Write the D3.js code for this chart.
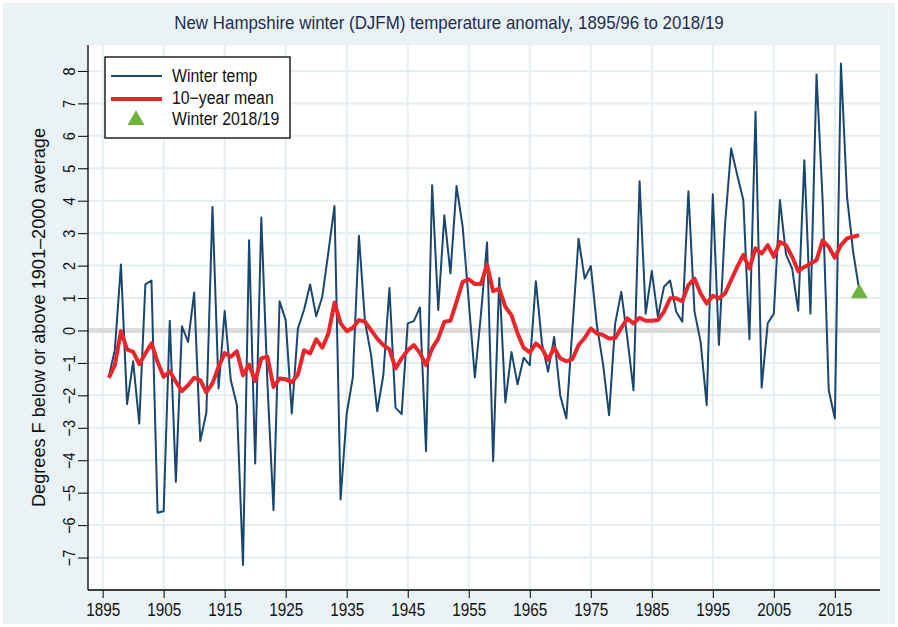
<!DOCTYPE html>
<html>
<head>
<meta charset="utf-8">
<script src="https://cdn.jsdelivr.net/npm/d3@7"></script>
<style>
  body { margin: 0; background: #fff; }
  text { font-family: 'Liberation Sans Narrow', 'Arial Narrow', 'Liberation Sans', sans-serif; }
</style>
</head>
<body>
<svg id="chart" width="898" height="627"></svg>
<script>
// winter seasons, labelled by the year the winter ends (1895/96 -> 1896)
var years = d3.range(1896, 2020);

var winter_temp = [
  -1.43, -0.60,  2.03, -2.27, -0.95, -2.87,  1.42,  1.54, -5.62, -5.57,
   0.30, -4.66,  0.13, -0.35,  1.17, -3.41, -2.53,  3.81, -1.79,  0.60,
  -1.53, -2.30, -7.23,  2.78, -4.10,  3.48, -1.60, -5.54,  0.90,  0.32,
  -2.56,  0.06,  0.63,  1.42,  0.44,  1.04,  2.42,  3.84, -5.21, -2.56,
  -1.45,  2.92,  0.27, -0.76, -2.49, -1.38,  1.31, -2.38, -2.58,  0.22,
   0.29,  0.71, -3.72,  4.48,  0.63,  3.55,  1.76,  4.45,  3.20,  0.90,
  -1.45,  0.50,  2.71, -4.03,  1.62, -2.22, -0.66, -1.66, -0.84, -1.07,
   1.52, -0.40, -1.27, -0.20, -2.01, -2.71,  0.10,  2.83,  1.60,  1.99,
   0.16, -1.02, -2.61,  0.22,  1.19, -0.25, -1.84,  4.60,  0.52,  1.83,
   0.42,  1.35,  1.54,  0.58,  0.27,  4.29,  0.58, -0.35, -2.30,  4.20,
  -0.45,  3.25,  5.61,  4.79,  4.02, -0.27,  6.74, -1.76,  0.22,  0.52,
   4.02,  2.34,  1.91,  0.61,  5.25,  0.52,  7.89,  4.00, -1.84, -2.71,
   8.23,  4.12,  2.42,  1.24
];

var mean_10yr = [
  -1.46, -1.07, -0.02, -0.58, -0.66, -1.04, -0.71, -0.40, -0.97, -1.43,
  -1.26, -1.58, -1.87, -1.69, -1.46, -1.53, -1.91, -1.63, -1.12, -0.70,
  -0.81, -0.64, -1.38, -1.05, -1.56, -0.86, -0.81, -1.74, -1.48, -1.50,
  -1.60, -1.36, -0.61, -0.71, -0.27, -0.53, -0.09,  0.86,  0.22, -0.02,
   0.08,  0.32,  0.27,  0.01, -0.25, -0.45, -0.58, -1.17, -0.86, -0.61,
  -0.45, -0.69, -1.07, -0.55, -0.25,  0.27,  0.30,  0.88,  1.50,  1.58,
   1.43,  1.43,  2.02,  1.21,  1.29,  0.73,  0.47, -0.09, -0.53, -0.68,
  -0.40, -0.55, -0.91, -0.53, -0.86, -0.95, -0.88, -0.45, -0.23,  0.06,
  -0.09, -0.14, -0.25, -0.23,  0.08,  0.37,  0.22,  0.39,  0.30,  0.30,
   0.32,  0.58,  0.99,  0.99,  0.90,  1.40,  1.60,  1.14,  0.83,  1.07,
   0.99,  1.14,  1.55,  1.96,  2.33,  1.91,  2.53,  2.37,  2.63,  2.27,
   2.73,  2.63,  2.27,  1.83,  1.96,  2.06,  2.17,  2.78,  2.58,  2.24,
   2.63,  2.84,  2.89,  2.94
];

var last_year  = 2019;
var last_value = 1.24;

var x_ticks = [1895, 1905, 1915, 1925, 1935, 1945, 1955, 1965, 1975, 1985, 1995, 2005, 2015];
var y_ticks = [-7, -6, -5, -4, -3, -2, -1, 0, 1, 2, 3, 4, 5, 6, 7, 8];

var title_text  = 'New Hampshire winter (DJFM) temperature anomaly, 1895/96 to 2018/19';
var y_title     = 'Degrees F below or above 1901\u20132000 average';
var legend_text = ['Winter temp', '10\u2212year mean', 'Winter 2018/19'];

var col_blue  = '#1a476f';
var col_red   = '#e8262b';
var col_green = '#6cb33f';
var col_grid  = '#e4eef3';

var svg = d3.select('#chart');

var plot_left = 88, plot_right = 880, plot_top = 45, plot_bottom = 590;

var x = d3.scaleLinear().domain([1892.6, 2022.4]).range([plot_left, plot_right]);
var y = d3.scaleLinear().domain([-8, 8.8]).range([plot_bottom, plot_top]);

// no narrow font installed, so squeeze the text to look like Helvetica Narrow
function condense(sel, k) {
  sel.each(function() {
    var w = this.getComputedTextLength();
    d3.select(this).attr('textLength', w * k).attr('lengthAdjust', 'spacingAndGlyphs');
  });
}

// outer panel
svg.append('rect')
  .attr('x', 3).attr('y', 3).attr('width', 892).attr('height', 621)
  .attr('fill', '#e9f2f5');

svg.append('rect')
  .attr('x', plot_left).attr('y', plot_top)
  .attr('width', plot_right - plot_left).attr('height', plot_bottom - plot_top)
  .attr('fill', '#ffffff');

// grid
svg.append('g').selectAll('line').data(x_ticks).enter().append('line')
  .attr('x1', function(d) { return x(d); })
  .attr('x2', function(d) { return x(d); })
  .attr('y1', plot_top).attr('y2', plot_bottom)
  .attr('stroke', col_grid).attr('stroke-width', 2);

svg.append('g').selectAll('line').data(y_ticks).enter().append('line')
  .attr('x1', plot_left).attr('x2', plot_right)
  .attr('y1', function(d) { return y(d); })
  .attr('y2', function(d) { return y(d); })
  .attr('stroke', function(d) { return d === 0 ? '#dcdcdc' : col_grid; })
  .attr('stroke-width', function(d) { return d === 0 ? 5 : 2; });

// axes
var xAxis = d3.axisBottom(x).tickValues(x_ticks).tickSize(8).tickPadding(5).tickFormat(d3.format('d'));
var gx = svg.append('g').attr('transform', 'translate(0,' + plot_bottom + ')').call(xAxis);
gx.select('.domain').attr('d', 'M' + plot_left + ',0H' + plot_right).attr('stroke', '#000').attr('stroke-width', 1.3);
gx.selectAll('.tick line').attr('stroke', '#000').attr('stroke-width', 1);
gx.selectAll('.tick text')
  .style('font-size', '18px')
  .attr('fill', '#111')
  .call(condense, 0.85);

var yAxis = d3.axisLeft(y).tickValues(y_ticks).tickSize(10)
  .tickFormat(function(d) { return d < 0 ? '\u2212' + Math.abs(d) : d; });
var gy = svg.append('g').attr('transform', 'translate(' + plot_left + ',0)').call(yAxis);
gy.select('.domain').attr('d', 'M0,' + plot_top + 'V' + plot_bottom).attr('stroke', '#000').attr('stroke-width', 1.3);
gy.selectAll('.tick line').attr('stroke', '#000').attr('stroke-width', 1);
gy.selectAll('.tick text')
  .attr('x', null).attr('dy', null)
  .attr('text-anchor', 'middle')
  .attr('transform', 'translate(-19,0) rotate(-90)')
  .attr('dy', '0.35em')
  .style('font-size', '17px')
  .attr('fill', '#111')
  .call(condense, 0.85);

// series
var pts = years.map(function(yr, i) { return {year: yr, temp: winter_temp[i], mean: mean_10yr[i]}; });

svg.append('path')
  .datum(pts)
  .attr('fill', 'none')
  .attr('stroke', col_blue)
  .attr('stroke-width', 2)
  .attr('stroke-linejoin', 'round')
  .attr('d', d3.line().x(function(d) { return x(d.year); }).y(function(d) { return y(d.temp); }));

svg.append('path')
  .datum(pts)
  .attr('fill', 'none')
  .attr('stroke', col_red)
  .attr('stroke-width', 4)
  .attr('stroke-linejoin', 'round')
  .attr('d', d3.line().x(function(d) { return x(d.year); }).y(function(d) { return y(d.mean); }));

var tri = d3.symbol().type(d3.symbolTriangle).size(125);
svg.append('path')
  .attr('d', tri())
  .attr('transform', 'translate(' + x(last_year) + ',' + (y(last_value) + 3) + ')')
  .attr('fill', col_green);

// title
svg.append('text')
  .attr('x', 449).attr('y', 29)
  .attr('text-anchor', 'middle')
  .style('font-size', '19px')
  .attr('fill', '#1e2d4f')
  .text(title_text)
  .call(condense, 0.89);

svg.append('text')
  .attr('transform', 'translate(39,' + ((plot_top + plot_bottom) / 2) + ') rotate(-90)')
  .attr('text-anchor', 'middle')
  .attr('dy', '0.35em')
  .style('font-size', '18.5px')
  .attr('fill', '#111')
  .text(y_title)
  .call(condense, 0.98);

// legend
var lg = svg.append('g').attr('transform', 'translate(105,57)');
lg.append('rect')
  .attr('width', 185).attr('height', 81)
  .attr('fill', '#fff').attr('stroke', '#000').attr('stroke-width', 1.3);

lg.append('line').attr('x1', 6).attr('x2', 57).attr('y1', 19).attr('y2', 19)
  .attr('stroke', col_blue).attr('stroke-width', 2);
lg.append('line').attr('x1', 6).attr('x2', 57).attr('y1', 42).attr('y2', 42)
  .attr('stroke', col_red).attr('stroke-width', 4);
lg.append('path').attr('d', tri()).attr('transform', 'translate(31,63)').attr('fill', col_green);

lg.selectAll('text.lab').data(legend_text).enter().append('text')
  .attr('class', 'lab')
  .attr('x', 67)
  .attr('y', function(d, i) { return [19, 41, 62][i]; })
  .attr('dy', '0.35em')
  .style('font-size', '18px')
  .attr('fill', '#111')
  .text(function(d) { return d; })
  .call(condense, 0.88);
</script>
</body>
</html>
